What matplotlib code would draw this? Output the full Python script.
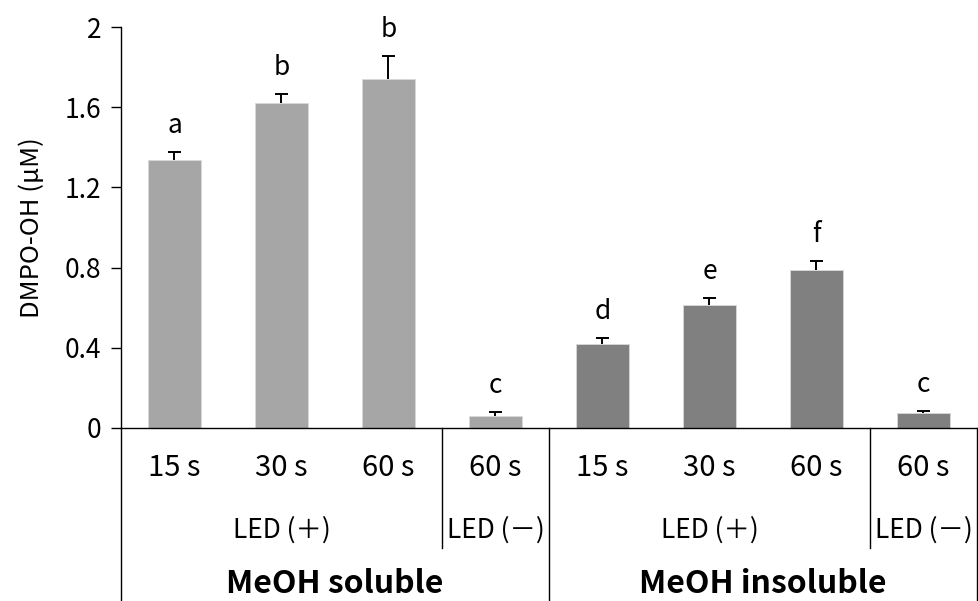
import matplotlib
matplotlib.use("Agg")
import matplotlib.pyplot as plt
from matplotlib.transforms import blended_transform_factory

plt.rcParams["font.family"] = ["Noto Sans CJK JP", "DejaVu Sans"]

# data
times = ["15 s", "30 s", "60 s", "60 s", "15 s", "30 s", "60 s", "60 s"]
values = [1.335, 1.62, 1.74, 0.062, 0.42, 0.613, 0.79, 0.076]
errors = [0.042, 0.045, 0.115, 0.018, 0.027, 0.034, 0.043, 0.010]
letters = ["a", "b", "b", "c", "d", "e", "f", "c"]
led_labels = ["LED (＋)", "LED (－)", "LED (＋)", "LED (－)"]
led_centers = [1, 3, 5, 7]
group_labels = ["MeOH soluble", "MeOH insoluble"]
group_centers = [1.5, 5.5]
yticks = [0, 0.4, 0.8, 1.2, 1.6, 2]
ytick_labels = ["0", "0.4", "0.8", "1.2", "1.6", "2"]

light = "#a6a6a6"
dark = "#808080"
colors = [light] * 4 + [dark] * 4

fig = plt.figure(figsize=(9.79, 6.01), dpi=100)
ax = fig.add_axes([121 / 979, 173 / 601, 856 / 979, 401 / 601])

x = list(range(len(values)))
tops = [v + e for v, e in zip(values, errors)]
ax.bar(x, values, width=0.5, color=colors, edgecolor="#d9d9d9", linewidth=0.6, zorder=2)

# upper-only error bars with a cap
cap = 0.065
ax.vlines(x, values, tops, color="black", lw=1.4, zorder=3)
ax.hlines(tops, [xi - cap for xi in x], [xi + cap for xi in x], color="black", lw=1.4, zorder=3)

for xi, t, s in zip(x, tops, letters):
    ax.annotate(s, (xi, t), xytext=(0, 19), textcoords="offset points",
                ha="center", va="center", fontsize=19)

ax.set_xlim(-0.5, 7.5)
ax.set_ylim(0, 2)
ax.set_yticks(yticks)
ax.set_yticklabels(ytick_labels)
ax.tick_params(axis="y", direction="out", length=7, width=1, labelsize=19, pad=7)
ax.set_xticks([])
ax.set_ylabel("DMPO-OH (μM)", fontsize=18.5, labelpad=14)

for side in ["top", "right"]:
    ax.spines[side].set_visible(False)
ax.spines["left"].set_linewidth(1)
ax.spines["bottom"].set_linewidth(1)

tr = blended_transform_factory(ax.transData, ax.transAxes)
y_bottom = -0.435
y_short = -0.30
for xs in [-0.5, 3.5, 7.5]:
    ax.plot([xs, xs], [0, y_bottom], color="black", lw=1, transform=tr, clip_on=False)
for xs in [2.5, 6.5]:
    ax.plot([xs, xs], [0, y_short], color="black", lw=1, transform=tr, clip_on=False)

for xi, t in zip(x, times):
    ax.text(xi, -0.10, t, transform=tr, ha="center", va="center", fontsize=21)
for xc, t in zip(led_centers, led_labels):
    ax.text(xc, -0.254, t, transform=tr, ha="center", va="center", fontsize=19)
for xc, t in zip(group_centers, group_labels):
    ax.text(xc, -0.39, t, transform=tr, ha="center", va="center",
            fontsize=23, fontweight="bold")

fig.savefig("out.png", dpi=100)
